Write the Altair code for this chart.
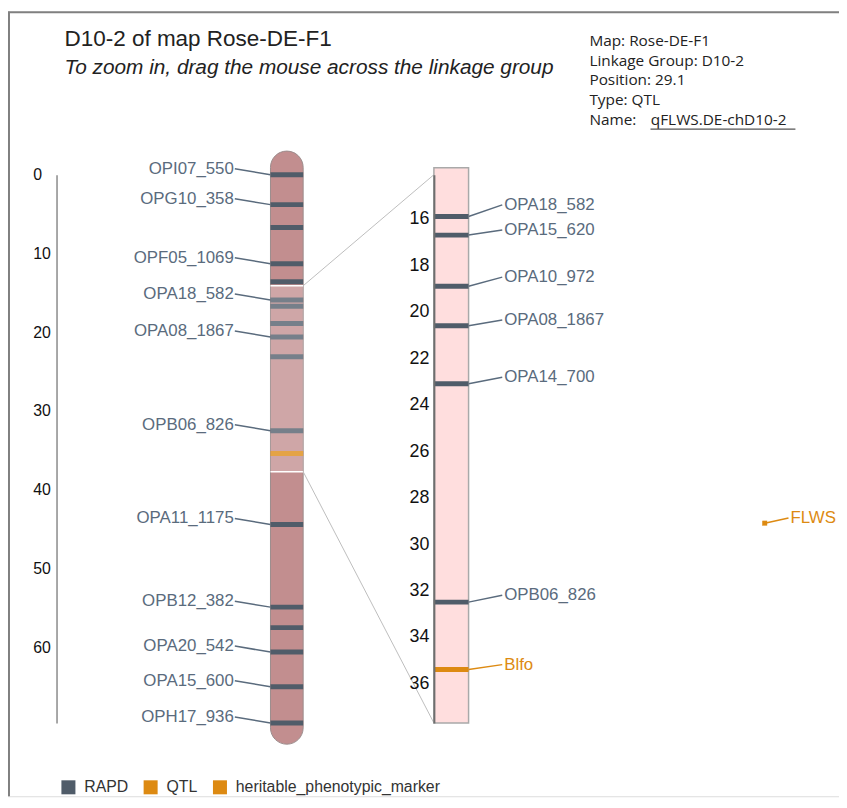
import altair as alt
import pandas as pd

# ---------------- data ----------------
marker_names = ["OPI07_550", "OPG10_358", "m3", "OPF05_1069", "m5", "OPA18_582",
                "OPA15_620", "OPA10_972", "OPA08_1867", "OPA14_700", "OPB06_826",
                "Blfo", "OPA11_1175", "OPB12_382", "m15", "OPA20_542", "OPA15_600",
                "OPH17_936"]
marker_pos = [0.0, 3.8, 6.7, 11.3, 13.6, 15.9, 16.7, 18.9, 20.6, 23.1, 32.5,
              35.4, 44.4, 54.9, 57.5, 60.6, 65.0, 69.6]
marker_type = ["RAPD"] * 11 + ["heritable_phenotypic_marker"] + ["RAPD"] * 6

left_labels = ["OPI07_550", "OPG10_358", "OPF05_1069", "OPA18_582", "OPA08_1867",
               "OPB06_826", "OPA11_1175", "OPB12_382", "OPA20_542", "OPA15_600",
               "OPH17_936"]

zoom_names = ["OPA18_582", "OPA15_620", "OPA10_972", "OPA08_1867", "OPA14_700",
              "OPB06_826", "Blfo"]
zoom_label_pos = [15.40, 16.48, 18.51, 20.35, 22.82, 32.20, 35.19]

qtl_names = ["FLWS"]
qtl_pos = [29.1]
qtl_label_pos = [28.88]
qtl_type = ["QTL"]

left_domain = [0.0, 69.6]
zoom_domain = [14.1, 37.7]
left_ticks = [0, 10, 20, 30, 40, 50, 60]
zoom_ticks = [16, 18, 20, 22, 24, 26, 28, 30, 32, 34, 36]
chrom_extent = [-3.0, 72.3]
zoom_box = [13.8, 37.7]

type_domain = ["RAPD", "QTL", "heritable_phenotypic_marker"]
type_colors = ["#505c69", "#dd8a12", "#dd8a12"]

title_text = "D10-2 of map Rose-DE-F1"
subtitle_text = "To zoom in, drag the mouse across the linkage group"
info_lines = ["Map: Rose-DE-F1", "Linkage Group: D10-2", "Position: 29.1",
              "Type: QTL", "Name:"]
info_name = "qFLWS.DE-chD10-2"

# ---------------- tables ----------------
markers = pd.DataFrame({"name": marker_names, "pos": marker_pos, "type": marker_type})
left_lab = markers[markers["name"].isin(left_labels)]
zoom_df = pd.DataFrame({"name": zoom_names, "lab": zoom_label_pos}).merge(markers, on="name")
qtl_df = pd.DataFrame({"name": qtl_names, "pos": qtl_pos, "lab": qtl_label_pos, "type": qtl_type})
zone_df = pd.DataFrame({"edge": zoom_domain, "target": left_domain})
body_df = pd.DataFrame({"y0": [chrom_extent[0]], "y1": [chrom_extent[1]]})
box_df = pd.DataFrame({"y0": [zoom_box[0]], "y1": [zoom_box[1]]})
one = pd.DataFrame({"a": [0]})

RANGE = [164.5, 718]
LABEL_C = "#5a6b7d"
ORANGE = "#dd8a12"
FONT = "Liberation Sans"

legend = alt.Legend(orient="none", legendX=53, legendY=775, direction="horizontal",
                    title=None, symbolType="square", symbolSize=200, labelFontSize=16,
                    labelFont=FONT, labelColor="#333", columnPadding=14, labelOffset=8,
                    labelLimit=500, padding=0, symbolStrokeWidth=0, symbolOpacity=1)
color_enc = alt.Color("type:N", scale=alt.Scale(domain=type_domain, range=type_colors),
                      legend=legend)
label_color = alt.condition(alt.datum.type == "RAPD", alt.value(LABEL_C), alt.value(ORANGE))

left_axis = alt.Axis(orient="left", offset=-49, values=left_ticks, tickSize=0,
                     labelPadding=24, labelAlign="left", labelFontSize=16, labelFont=FONT,
                     labelColor="#111", domainColor="#8a8a8a", domainWidth=1.5,
                     grid=False, title=None)
zoom_axis = alt.Axis(orient="left", offset=-430, values=zoom_ticks, tickSize=0,
                     labelPadding=5, labelFontSize=18, labelFont=FONT, labelColor="#111",
                     domainColor="#6e6e6e", domainWidth=2, grid=False, title=None, zindex=1)


def ly(field):
    return alt.Y(field, type="quantitative", axis=left_axis, title=None,
                 scale=alt.Scale(domain=left_domain, range=RANGE, nice=False, zero=False))


def zy(field):
    return alt.Y(field, type="quantitative", axis=zoom_axis, title=None,
                 scale=alt.Scale(domain=zoom_domain, range=RANGE, nice=False, zero=False))


# ---------------- left linkage group ----------------
body = alt.Chart(body_df).mark_rect(cornerRadius=16.5, fill="#c28e8f", stroke="#9b8c8c",
                                    strokeWidth=1).encode(
    x=alt.value(265), x2=alt.value(298), y=ly("y0"), y2=alt.Y2("y1"))
lmarks = alt.Chart(markers).mark_rect(yOffset=-2.5, y2Offset=2.5).encode(
    x=alt.value(265), x2=alt.value(298), y=ly("pos"), y2=alt.Y2("pos"), color=color_enc)
overlay = alt.Chart(zone_df).transform_aggregate(
    y0="min(edge)", y1="max(edge)").mark_rect(fill="white", opacity=0.22).encode(
    x=alt.value(265), x2=alt.value(298), y=ly("y0:Q"), y2=alt.Y2("y1:Q"))
zone_edges = alt.Chart(zone_df).mark_rule(color="white", strokeWidth=1.5).encode(
    x=alt.value(265), x2=alt.value(298), y=ly("edge"))
zoom_lines = alt.Chart(zone_df).mark_rule(color="#bdbdbd", strokeWidth=1).encode(
    x=alt.value(298), x2=alt.value(430), y=ly("edge"), y2=alt.Y2("target"))
lconn = alt.Chart(left_lab).mark_rule(yOffset=-6, strokeWidth=1.5).encode(
    x=alt.value(229), x2=alt.value(265), y=ly("pos"), y2=alt.Y2("pos"), color=label_color)
ltext = alt.Chart(left_lab).mark_text(align="right", baseline="middle", dy=-6,
                                      fontSize=17, font=FONT).encode(
    x=alt.value(228), y=ly("pos"), text="name:N", color=label_color)

left_group = alt.layer(body, lmarks, overlay, zone_edges, zoom_lines, lconn, ltext)

# ---------------- zoomed linkage group ----------------
box = alt.Chart(box_df).mark_rect(fill="#ffdede", stroke="#a9a9a9", strokeWidth=1.5).encode(
    x=alt.value(430), x2=alt.value(465), y=zy("y0"), y2=alt.Y2("y1"))
zmarks = alt.Chart(zoom_df).mark_rect(yOffset=-2.5, y2Offset=2.5).encode(
    x=alt.value(430), x2=alt.value(465), y=zy("pos"), y2=alt.Y2("pos"), color=color_enc)
zconn = alt.Chart(zoom_df).mark_rule(strokeWidth=1.5).encode(
    x=alt.value(465), x2=alt.value(499), y=zy("pos"), y2=alt.Y2("lab"), color=label_color)
ztext = alt.Chart(zoom_df).mark_text(align="left", baseline="middle", fontSize=17,
                                     font=FONT).encode(
    x=alt.value(501), y=zy("lab"), text="name:N", color=label_color)
qpoint = alt.Chart(qtl_df).mark_square(size=25, opacity=1).encode(
    x=alt.value(764), y=zy("pos"), color=color_enc)
qconn = alt.Chart(qtl_df).mark_rule(strokeWidth=1.5).encode(
    x=alt.value(764), x2=alt.value(788), y=zy("pos"), y2=alt.Y2("lab"), color=label_color)
qtext = alt.Chart(qtl_df).mark_text(align="left", baseline="middle", fontSize=17,
                                    font=FONT).encode(
    x=alt.value(790), y=zy("lab"), text="name:N", color=label_color)

right_group = alt.layer(box, zmarks, zconn, ztext, qpoint, qconn, qtext)

# ---------------- decorations & text ----------------
frame_top = alt.Chart(one).mark_rule(color="#808080", strokeWidth=2).encode(
    x=alt.value(0), x2=alt.value(839), y=alt.value(0.5))
frame_left = alt.Chart(one).mark_rule(color="#808080", strokeWidth=2).encode(
    x=alt.value(1), y=alt.value(0), y2=alt.value(792))
title = alt.Chart(one).mark_text(text=title_text, align="left", baseline="alphabetic",
                                 fontSize=22.7, font=FONT, color="#222").encode(
    x=alt.value(57), y=alt.value(34.3))
subtitle = alt.Chart(one).mark_text(text=subtitle_text, align="left", baseline="alphabetic",
                                    fontSize=21, font=FONT, fontStyle="italic",
                                    color="#222").encode(
    x=alt.value(57), y=alt.value(63.3))
info = alt.Chart(one).mark_text(text=info_lines, align="left", baseline="alphabetic",
                                fontSize=15.5, font="Open Sans", color="#222",
                                lineHeight=19.8).encode(
    x=alt.value(587), y=alt.value(34.7))
info_link = alt.Chart(one).mark_text(text=info_name, align="left", baseline="alphabetic",
                                     fontSize=15.5, font="Open Sans", color="#222").encode(
    x=alt.value(649), y=alt.value(113.9))
underline = alt.Chart(one).mark_rule(color="#555", strokeWidth=1.2).encode(
    x=alt.value(648.7), x2=alt.value(795), y=alt.value(118.5))

chart = alt.layer(
    frame_top, frame_left, title, subtitle, info, info_link, underline, left_group, right_group
).resolve_scale(y="independent").properties(
    width=839, height=792, padding=0, autosize=alt.AutoSizeParams(type="none")
).configure_view(stroke=None).configure(font=FONT)

chart.save("out.html", embed_options={"renderer": "svg", "actions": False})
